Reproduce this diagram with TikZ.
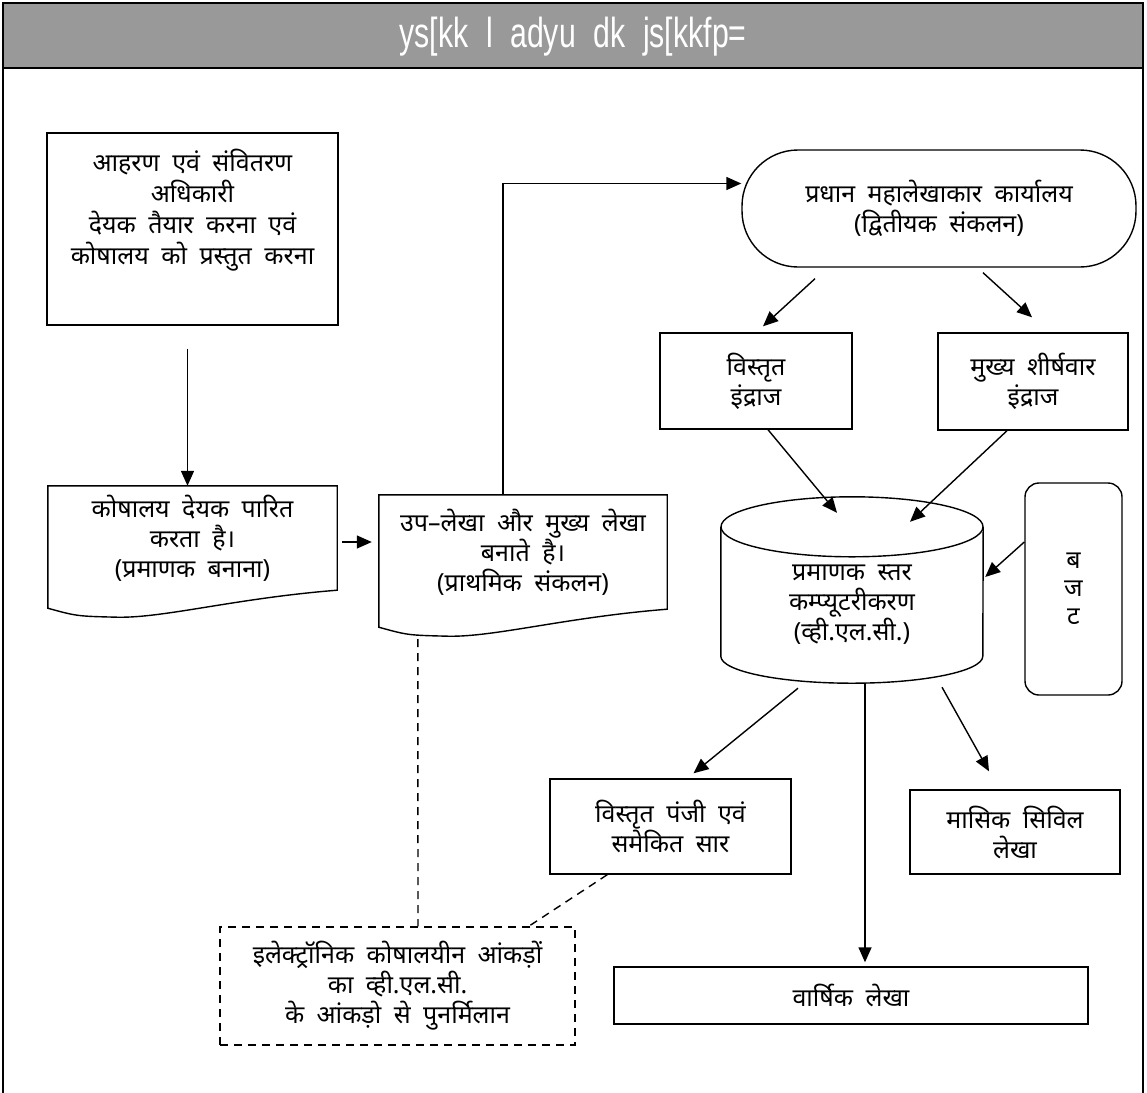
\documentclass[tikz,border=0pt]{standalone}
\usepackage{fontspec}
\setmainfont{Noto Sans}[Script=Devanagari]
\newfontfamily\titlefont[FakeStretch=0.72]{Liberation Sans}
\usetikzlibrary{arrows.meta,positioning,calc}
\definecolor{bandgray}{RGB}{153,153,153}

% wide word spaces as in the scanned chart
\newcommand{\hindisize}[2]{\fontsize{#1}{#2}\selectfont\spaceskip=0.5em plus 0.1em}
\newcommand{\titlesize}{\titlefont\fontsize{42}{48}\selectfont\spaceskip=0.42em}

% document shape with wavy bottom, drawn round a named node
\newcommand{\docoutline}[1]{%
  \draw[line width=1.4pt] (#1.north west) -- (#1.north east) -- (#1.south east)
    .. controls ($(#1.south east)!0.35!(#1.south west)+(0,8)$) and ($(#1.south east)!0.6!(#1.south west)+(0,28)$) .. ($(#1.south west)!0.24!(#1.south east)+(0,27)$)
    .. controls ($(#1.south west)!0.1!(#1.south east)+(0,26)$) .. ($(#1.south west)+(0,18)$) -- cycle;}

\begin{document}
\begin{tikzpicture}[x=1pt,y=-1pt,
  txt/.style={align=center,font=\hindisize{25}{30}},
  box/.style={txt,draw,line width=1.4pt,inner sep=0pt},
  docbox/.style={txt,inner sep=0pt},
  arr/.style={-{Triangle[length=15pt,width=13pt]},line width=1.4pt},
  dashline/.style={line width=1.4pt,dash pattern=on 8pt off 6pt}
]
\useasboundingbox (0,0) rectangle (1147,1092);
% frame and title band
\fill[bandgray] (3,3) rectangle (1143,68);
\draw[line width=2.5pt] (3,1096) -- (3,3) -- (1143,3) -- (1143,1096);
\draw[line width=2.5pt] (3,68) -- (1143,68);
\node[font=\titlesize,text=white] (title) at (573,37) {ys[kk l adyu dk js[kkfp=};

% left column
\node[box,minimum width=291pt,minimum height=192pt] (ddo) at (192.5,229) {};
\node[txt,font=\hindisize{25}{31}] (ddotext) at (192.5,210) {आहरण एवं संवितरण\\अधिकारी\\देयक तैयार करना एवं\\कोषालय को प्रस्तुत करना};
\node[docbox,minimum width=289pt,minimum height=104pt] (treasury) at (192.5,538) {कोषालय देयक पारित\\करता है।\\(प्रमाणक बनाना)};
\docoutline{treasury}
\node[docbox,minimum width=288pt,minimum height=114pt] (subacc) at (523,552) {उप–लेखा और मुख्य लेखा\\बनाते है।\\(प्राथमिक संकलन)};
\docoutline{subacc}
\node[box,dashline,minimum width=355pt,minimum height=118pt] (recon) at (397.5,986) {इलेक्ट्रॉनिक कोषालयीन आंकड़ों\\का व्ही.एल.सी.\\के आंकड़ो से पुनर्मिलान};

% right part
\node[box,rounded corners=56pt,minimum width=394pt,minimum height=117pt] (pag) at (939,208.5) {प्रधान महालेखाकार कार्यालय\\(द्वितीयक संकलन)};
\node[box,minimum width=192pt,minimum height=96pt] (vistrit) at (756,381) {विस्तृत\\इंद्राज};
\node[box,minimum width=190pt,minimum height=97pt] (mukhya) at (1033,381.5) {मुख्य शीर्षवार\\इंद्राज};
\node[txt,inner sep=0pt,minimum width=262pt,minimum height=156pt] (vlc) at (852,605) {प्रमाणक स्तर\\कम्प्यूटरीकरण\\(व्ही.एल.सी.)};
\draw[line width=1.4pt] (vlc.north) ellipse [x radius=131pt,y radius=30pt];
\draw[line width=1.4pt] (vlc.north west) -- ($(vlc.south west)+(0,-27)$) arc[start angle=180,end angle=360,x radius=131pt,y radius=27pt] -- (vlc.north east);
\node[box,rounded corners=14pt,minimum width=97pt,minimum height=212pt,font=\hindisize{25}{28}] (budget) at (1073.5,589) {ब\\ज\\ट};
\node[box,minimum width=241pt,minimum height=95pt] (ledger) at (670.5,826.5) {विस्तृत पंजी एवं\\समेकित सार};
\node[box,minimum width=210pt,minimum height=84pt] (monthly) at (1015,832) {मासिक सिविल\\लेखा};
\node[box,minimum width=474pt,minimum height=57pt] (annual) at (851,995.5) {वार्षिक लेखा};

% connectors
\draw[arr] ([xshift=-5pt,yshift=-23pt]ddo.south) -- ([xshift=-5pt]treasury.north);
\draw[arr] ($(treasury.east)+(5,4)$) -- ($(subacc.west)+(-7,-10)$);
\draw[arr] ($(subacc.north)+(-20,0)$) |- ($(pag.west)+(0,-25)$);
\draw[arr] ($(pag.south)+(-124,11)$) -- ($(vistrit.north)+(7,-6)$);
\draw[arr] ($(pag.south)+(44,5)$) -- ($(mukhya.north)+(-1,-15)$);
\draw[arr] ($(vistrit.south)+(12,0)$) -- ($(vlc.north)+(-15,-14)$);
\draw[arr] ($(mukhya.south)+(-26,0)$) -- ($(vlc.north)+(58,-5)$);
\draw[arr] ($(budget.west)+(0,-47)$) -- ($(vlc.east)+(2,-28)$);
\draw[arr] ($(vlc.south)+(-54,5)$) -- ($(ledger.north)+(23,-5)$);
\draw[arr] ($(vlc.south)+(13,0)$) -- ($(annual.north)+(14,-4)$);
\draw[arr] ($(vlc.south)+(90,4)$) -- ($(monthly.north)+(-26,-18)$);
\draw[dashline] ($(subacc.south west)+(39,30)$) -- ($(recon.north)+(20.5,0)$);
\draw[dashline] ($(ledger.south west)+(58,0)$) -- ($(recon.north east)+(-47,0)$);
\end{tikzpicture}
\end{document}
